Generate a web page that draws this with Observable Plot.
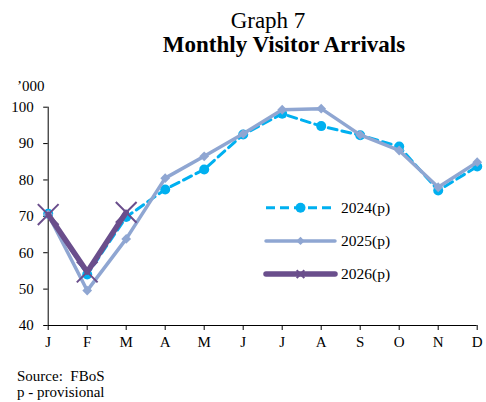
<!DOCTYPE html>
<html>
<head>
<meta charset="utf-8">
<script src="https://cdn.jsdelivr.net/npm/d3@7"></script>
<script src="https://cdn.jsdelivr.net/npm/@observablehq/plot@0.6"></script>
<style>
  html, body { margin: 0; padding: 0; background: #fff; }
  #wrap { position: relative; width: 486px; height: 402px; font-family: "Liberation Serif", "Times New Roman", serif; color: #000; overflow: hidden; }
  .t { position: absolute; white-space: nowrap; line-height: 1; }
  #chart { position: absolute; left: 0; top: 0; }
</style>
</head>
<body>
<div id="wrap">
  <div id="chart"></div>
  <div class="t" id="t1" style="font-size:23px; top:9px; left:0; width:536px; text-align:center;">Graph 7</div>
  <div class="t" id="t2" style="font-size:23px; font-weight:bold; top:33px; left:0; width:568px; text-align:center;">Monthly Visitor Arrivals</div>
  <div class="t" style="font-size:15px; top:79px; left:17px;">’000</div>
  <div class="t" style="font-size:15px; top:368.5px; left:17px;">Source:&nbsp; FBoS</div>
  <div class="t" style="font-size:15px; top:385px; left:17px;">p - provisional</div>
  <div id="legend" style="position:absolute; left:260px; top:190px;"></div>
</div>
<script>
const monthLabels = ["J","F","M","A","M","J","J","A","S","O","N","D"];
const seriesNames = ["2024(p)", "2025(p)", "2026(p)"];
const v2024 = [70.7, 54.0, 69.8, 77.4, 82.9, 92.5, 98.2, 94.8, 92.3, 89.2, 77.1, 83.7];
const v2025 = [70.5, 49.6, 63.8, 80.5, 86.5, 92.7, 99.3, 99.6, 92.4, 88.1, 78.0, 84.9];
const v2026 = [70.5, 54.7, 71.1];
const yTicks = [40, 50, 60, 70, 80, 90, 100];

const c2024 = "#00B0F0", c2025 = "#8FA6D2", c2026 = "#6A4E8C";
const toRows = vals => vals.map((v, i) => ({i, v}));
const d2024 = toRows(v2024), d2025 = toRows(v2025), d2026 = toRows(v2026);
const xTicks = d3.range(monthLabels.length);

const chart = Plot.plot({
  width: 486,
  height: 360,
  marginLeft: 47.7,
  marginRight: 9.3,
  marginTop: 106.7,
  marginBottom: 35,
  style: {fontFamily: "Liberation Serif, Times New Roman, serif", fontSize: "15px", color: "#000", background: "transparent", overflow: "visible"},
  x: {domain: [0, monthLabels.length - 1]},
  y: {domain: [40, 100]},
  marks: [
    Plot.axisX({ticks: xTicks, tickFormat: i => monthLabels[i], tickSize: 5, tickPadding: 6, label: null, stroke: "#000", fill: "#000"}),
    Plot.axisY({ticks: yTicks, tickSize: 4.5, tickPadding: 10, label: null, stroke: "#000", fill: "#000"}),
    Plot.ruleX([0], {stroke: "#000", strokeWidth: 1}),
    Plot.ruleY([40], {stroke: "#000", strokeWidth: 1}),
    Plot.line(d2024, {x: "i", y: "v", stroke: c2024, strokeWidth: 3, strokeDasharray: "9,5"}),
    Plot.dot(d2024, {x: "i", y: "v", fill: c2024, r: 5}),
    Plot.line(d2025, {x: "i", y: "v", stroke: c2025, strokeWidth: 3.5}),
    Plot.dot(d2025, {x: "i", y: "v", fill: c2025, symbol: "diamond2", r: 4.4}),
    Plot.line(d2026, {x: "i", y: "v", stroke: c2026, strokeWidth: 5.5}),
    Plot.dot(d2026, {x: "i", y: "v", stroke: c2026, symbol: "times", r: 9.5, strokeWidth: 2})
  ]
});
document.getElementById("chart").appendChild(chart);

// Legend
const legendItems = [
  {name: seriesNames[0], color: c2024, width: 3, dash: "9,5", marker: "dot"},
  {name: seriesNames[1], color: c2025, width: 3.5, dash: null, marker: "diamond"},
  {name: seriesNames[2], color: c2026, width: 5.5, dash: null, marker: "times"}
];
const lg = d3.select("#legend").append("svg").attr("width", 140).attr("height", 100).style("overflow", "visible");
legendItems.forEach((it, k) => {
  const g = lg.append("g").attr("transform", `translate(0,${17.7 + k * 33.2})`);
  g.append("line").attr("x1", 6).attr("x2", 75).attr("y1", 0).attr("y2", 0)
    .attr("stroke", it.color).attr("stroke-width", it.width)
    .attr("stroke-linecap", it.dash ? "butt" : "round")
    .attr("stroke-dasharray", it.dash);
  if (it.marker === "dot") g.append("circle").attr("cx", 40.5).attr("r", 5).attr("fill", it.color);
  if (it.marker === "diamond") g.append("path").attr("d", d3.symbol(d3.symbolDiamond2, 45)()).attr("transform", "translate(40.5,0)").attr("fill", it.color);
  if (it.marker === "times") g.append("path").attr("d", d3.symbol(d3.symbolTimes, 40)()).attr("transform", "translate(40.5,0)").attr("stroke", it.color).attr("stroke-width", 2);
  g.append("text").attr("x", 81).attr("y", 0).attr("dy", "0.32em")
    .style("font-family", "Liberation Serif, Times New Roman, serif").style("font-size", "15.5px").attr("fill", "#000").text(it.name);
});
</script>
</body>
</html>
